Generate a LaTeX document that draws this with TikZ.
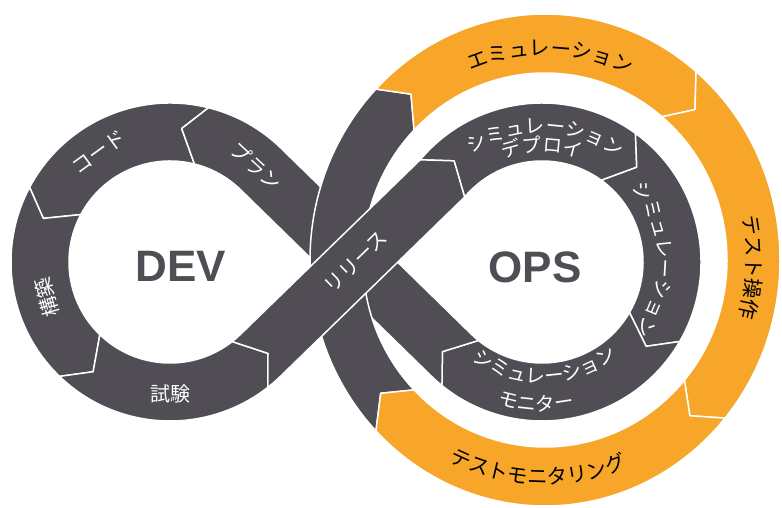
\documentclass[tikz,border=0pt]{standalone}
\usepackage{fontspec}
\setmainfont{Liberation Sans}
\newfontfamily\jp{Noto Sans CJK JP}
\usepackage{xcolor}
\definecolor{LoopGray}{RGB}{80,77,84}
\definecolor{RingOrange}{RGB}{247,166,42}
\usetikzlibrary{calc,decorations.text}
\tikzstyle{seg} = [fill=LoopGray, draw=white, line width=1.5pt, line join=round]
\tikzstyle{oseg} = [seg, fill=RingOrange]
\tikzstyle{wlabel} = [text=white, font=\jp\fontsize{20}{20}\selectfont, inner sep=0pt]
\tikzstyle{big} = [text=LoopGray, font=\bfseries\fontsize{44}{44}\selectfont]
\tikzset{along/.style={decorate, decoration={text along path, text align=center, text={#1}}}}
\newcommand{\wtxt}{\color{white}\jp\fontsize{19.5}{19.5}\selectfont}
\newcommand{\btxt}{\color{black}\jp\fontsize{20.5}{20.5}\selectfont}
% piece of a loop: centre, from, to, tip shift
\newcommand{\loopseg}[4]{%
  \path[seg] ($(#1)+(#2:159pt)$) arc[start angle=#2, end angle=#3, radius=159pt]
    -- ($(#1)+({#3+#4}:134pt)$) -- ($(#1)+(#3:101pt)$)
    arc[start angle=#3, end angle=#2, radius=101pt]
    -- ($(#1)+({#2+#4}:134pt)$) -- cycle;}
% piece of the outer ring: from, to, tip shift, style
\newcommand{\ringseg}[4]{%
  \path[#4] ($(RC)+(#1:235pt and 246pt)$)
    arc[start angle=#1, end angle=#2, x radius=235pt, y radius=246pt]
    -- ($(RC)+({#2+#3}:208.5pt and 216.5pt)$) -- ($(RC)+(#2:182pt and 187pt)$)
    arc[start angle=#2, end angle=#1, x radius=182pt, y radius=187pt]
    -- ($(RC)+({#1+#3}:208.5pt and 216.5pt)$) -- cycle;}

\begin{document}
\begin{tikzpicture}[x=1pt, y=1pt]
  \useasboundingbox (0,0) rectangle (782,508);
  \coordinate (CL) at (170,246);
  \coordinate (CR) at (542,246);
  \coordinate (RC) at (545,248);
  \coordinate (X) at (356,246);
  % DEV loop
  \loopseg{CL}{76}{152}{9}
  \loopseg{CL}{152}{226}{9}
  \loopseg{CL}{226}{308}{9}
  % OPS loop
  \loopseg{CR}{140}{54}{-9}
  \loopseg{CR}{54}{-30}{-9}
  \loopseg{CR}{-30}{-129}{-9}
  % plan, under the crossing
  \path[seg] ($(CR)+(231:159pt)$) -- ($(CR)+(222:134pt)$) -- ($(CR)+(231:101pt)$)
    arc[start angle=231, end angle=225.65, radius=101pt]
    -- ($(CL)+(45.65:159pt)$) arc[start angle=45.65, end angle=76, radius=159pt]
    -- ($(CL)+(85:134pt)$) -- ($(CL)+(76:101pt)$)
    arc[start angle=76, end angle=45.65, radius=101pt]
    -- ($(CR)+(225.65:159pt)$) arc[start angle=225.65, end angle=231, radius=159pt] -- cycle;
  % outer ring
  \ringseg{224}{136}{-6}{seg}
  \ringseg{136}{50}{-6}{oseg}
  \ringseg{50}{-40}{-6}{oseg}
  \ringseg{-40}{-136}{-6}{oseg}
  % release, on top
  \path[seg] ($(CL)+(308:101pt)$) -- ($(CL)+(317:134pt)$) -- ($(CL)+(308:159pt)$)
    arc[start angle=308, end angle=314.35, radius=159pt]
    -- ($(CR)+(140:101pt)$) -- ($(CR)+(131:134pt)$) -- ($(CR)+(140:159pt)$)
    -- ($(CL)+(314.35:101pt)$) arc[start angle=314.35, end angle=308, radius=101pt] -- cycle;
  %
  \node[big] at (181,242) {DEV};
  \node[big] at (535,241) {OPS};
  %
  \node[wlabel, rotate=36] (code) at ($(CL)+(123:131pt)$) {コード};
  \node[wlabel, rotate=-43] (plan) at ($(CL)+(48:129pt)$) {プラン};
  \node[wlabel, rotate=106] (build) at ($(CL)+(196:128pt)$) {構築};
  \node[wlabel] (test) at ($(CL)+(270:132pt)$) {試験};
  \node[wlabel, rotate=44.35] (release) at (X) {リリース};
  %
  \path[along={|\wtxt|シミュレーション}] ($(CR)+(128:129pt)$) arc[start angle=128, end angle=49, radius=129pt];
  \path[along={|\wtxt|デプロイ}] ($(CR)+(112:110pt)$) arc[start angle=112, end angle=68, radius=110pt];
  \path[along={|\wtxt|シミュレーション}] ($(CR)+(43.5:116pt)$) arc[start angle=43.5, end angle=-40.5, radius=116pt];
  \path[along={|\wtxt|シミュレーション}] ($(CR)+(229.5:121pt)$) arc[start angle=229.5, end angle=313.5, radius=121pt];
  \path[along={|\wtxt|モニター}] ($(CR)+(243:149pt)$) arc[start angle=243, end angle=292, radius=149pt];
  %
  \path[along={|\btxt|エミュレーション}] ($(RC)+(131:196.5pt and 204.5pt)$)
    arc[start angle=131, end angle=46, x radius=196.5pt, y radius=204.5pt];
  \path[along={|\btxt|テスト操作}] ($(RC)+(28:201.5pt and 209.5pt)$)
    arc[start angle=28, end angle=-32, x radius=201.5pt, y radius=209.5pt];
  \path[along={|\btxt|テストモニタリング}] ($(RC)+(223:215.5pt and 224.5pt)$)
    arc[start angle=223, end angle=313, x radius=215.5pt, y radius=224.5pt];
\end{tikzpicture}
\end{document}
